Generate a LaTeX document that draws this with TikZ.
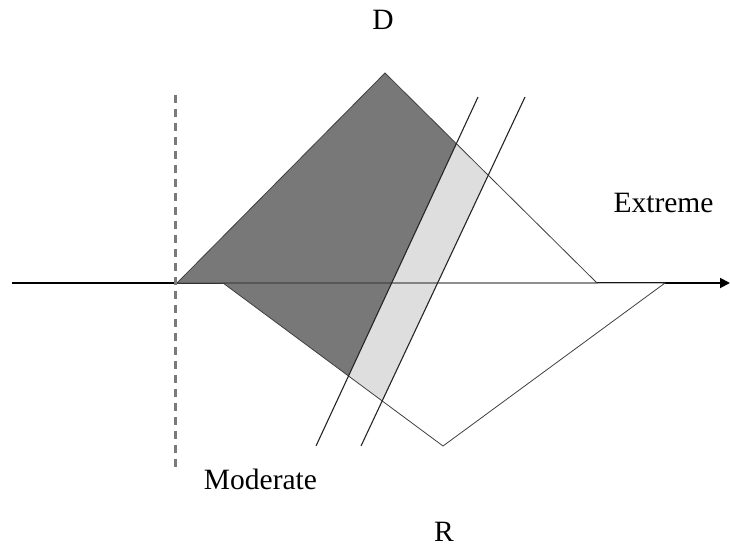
\documentclass[tikz,border=0pt]{standalone}
\usepackage{fontspec}
\setmainfont{Liberation Serif}
\usetikzlibrary{arrows.meta, positioning, calc}

\begin{document}
\begin{tikzpicture}[
  x=1pt, y=-1pt,
  lbl/.style={font=\fontsize{29.5}{34}\selectfont, inner sep=0pt, anchor=base},
  edge/.style={draw=black!75, line width=0.8pt, line join=miter},
  cut/.style={draw=black!85, line width=1.1pt},
  axis/.style={-{Triangle[length=10pt, width=10pt]}, line width=1.8pt},
  centre/.style={draw=black!52, dash pattern=on 8pt off 6pt, line width=2.6pt},
  darkfill/.style={fill=black!53},
  lightfill/.style={fill=black!13},
]
\useasboundingbox (0,0) rectangle (730,546);

%% ---- corners of the two triangles ----
\coordinate (Dl) at (177,283);
\coordinate (Dt) at (385,73);
\coordinate (Dr) at (597,283);
\coordinate (Rl) at (223,283);
\coordinate (Rb) at (443,446);
\coordinate (Rr) at (665,283);

%% ---- the two parallel cuts ----
\coordinate (c1b) at (316,446);
\coordinate (c1t) at (478,97);
\coordinate (c2b) at (361,446);
\coordinate (c2t) at (525,97);
\coordinate (x1) at (intersection of Dt--Dr and c1b--c1t);
\coordinate (x2) at (intersection of Dt--Dr and c2b--c2t);
\coordinate (y1) at (intersection of Rl--Rb and c1b--c1t);
\coordinate (y2) at (intersection of Rl--Rb and c2b--c2t);

%% axis and median
\coordinate (a0) at (12,283);
\coordinate (a1) at (730,283);
\coordinate (m0) at (175.5,95);
\coordinate (m1) at (175.5,470);

\draw[axis] (a0) -- (a1);

%% ---- shading ----
\fill[white] (Dl) -- (Dt) -- (Dr) -- cycle;
\fill[white] (Rl) -- (Rb) -- (Rr) -- cycle;
\fill[darkfill] (Dl) -- (Dt) -- (x1) -- (y1) -- (Rl) -- cycle;
\fill[lightfill] (x1) -- (x2) -- (y2) -- (y1) -- cycle;

%% ---- outlines ----
\draw[edge] (Dl) -- (Dt) -- (Dr) -- cycle;
\draw[edge] (Rl) -- (Rb) -- (Rr) -- cycle;
\draw[cut] (c1b) -- (c1t);
\draw[cut] (c2b) -- (c2t);
\draw[centre] (m0) -- (m1);

%% ---- labels ----
\node[lbl] (D) at (383,29) {D};
\node[lbl] (ext) at (663.5,212) {Extreme};
\node[lbl] (mod) at (260.5,489) {Moderate};
\node[lbl] (R) at (444,541) {R};

\end{tikzpicture}
\end{document}
